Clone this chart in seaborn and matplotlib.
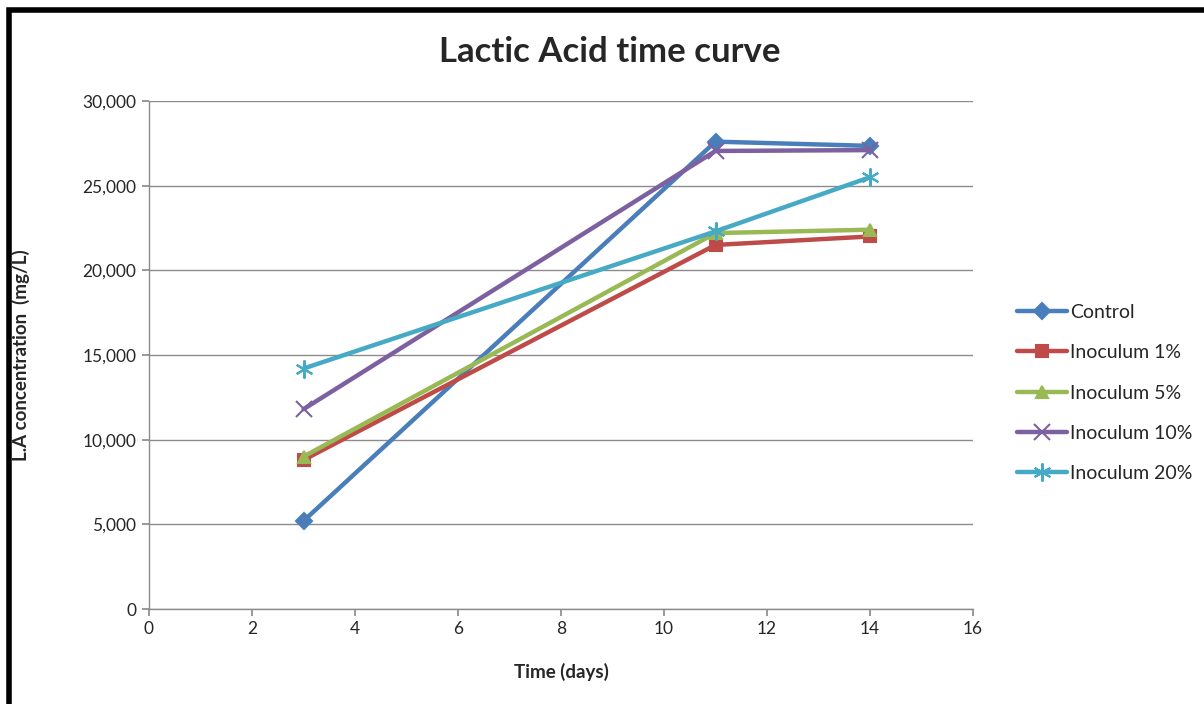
import matplotlib
matplotlib.use("Agg")
import matplotlib.pyplot as plt
import matplotlib.ticker as mticker
from matplotlib.patches import Rectangle
import pandas as pd
import seaborn as sns

# Sampling days and lactic acid concentration (mg/L) per treatment
days = [3, 11, 14]
control = [5200, 27600, 27350]
inoculum_1 = [8800, 21500, 22000]
inoculum_5 = [9000, 22200, 22400]
inoculum_10 = [11800, 27050, 27100]
inoculum_20 = [14200, 22300, 25500]

series_names = ["Control", "Inoculum 1%", "Inoculum 5%", "Inoculum 10%", "Inoculum 20%"]
series_values = [control, inoculum_1, inoculum_5, inoculum_10, inoculum_20]

x_ticks = [0, 2, 4, 6, 8, 10, 12, 14, 16]
y_ticks = [0, 5000, 10000, 15000, 20000, 25000, 30000]

rows = []
for name, vals in zip(series_names, series_values):
    for d, v in zip(days, vals):
        rows.append({"Time (days)": d, "value": v, "series": name})
df = pd.DataFrame(rows)

palette = {
    "Control": "#4A7EBB",
    "Inoculum 1%": "#BE4B48",
    "Inoculum 5%": "#98B954",
    "Inoculum 10%": "#7D60A0",
    "Inoculum 20%": "#46AAC5",
}
markers = {
    "Control": "D",
    "Inoculum 1%": "s",
    "Inoculum 5%": "^",
    "Inoculum 10%": "x",
    "Inoculum 20%": (6, 2, 0),
}
marker_sizes = {
    "Control": 8,
    "Inoculum 1%": 9,
    "Inoculum 5%": 9,
    "Inoculum 10%": 11,
    "Inoculum 20%": 13,
}

sns.set_theme(style="white")
plt.rcParams["font.family"] = ["Lato", "DejaVu Sans"]

fig = plt.figure(figsize=(12.04, 7.04), dpi=100)
ax = fig.add_axes([149 / 1204, (704 - 609) / 704, (973 - 149) / 1204, (609 - 101) / 704])

for name in series_names:
    sub = df[df["series"] == name]
    sns.lineplot(
        data=sub, x="Time (days)", y="value", ax=ax,
        color=palette[name], marker=markers[name],
        markersize=marker_sizes[name], markeredgewidth=1.5,
        markeredgecolor=palette[name], linewidth=3.2, label=name,
    )

ax.set_xlim(0, 16)
ax.set_ylim(0, 30000)
ax.set_xticks(x_ticks)
ax.set_yticks(y_ticks)
ax.yaxis.set_major_formatter(mticker.FuncFormatter(lambda v, p: f"{int(v):,}"))
ax.grid(axis="y", color="#8c8c8c", linewidth=1.0)
ax.set_axisbelow(True)
for side in ["top", "right"]:
    ax.spines[side].set_visible(False)
for side in ["left", "bottom"]:
    ax.spines[side].set_color("#8c8c8c")
    ax.spines[side].set_linewidth(1.0)
ax.tick_params(axis="both", which="major", labelsize=12.5, direction="out",
               length=5, color="#8c8c8c", bottom=True, left=True, pad=4)

ax.set_xlabel("Time (days)", fontsize=13.5, fontweight="bold")
ax.set_ylabel("L.A concentration  (mg/L)", fontsize=13.5, fontweight="bold")
ax.xaxis.set_label_coords(0.5, -0.106)
ax.yaxis.set_label_coords(-0.145, 0.5)

fig.suptitle("Lactic Acid time curve", x=610 / 1204, y=1 - 52 / 704, va="center",
             fontsize=25, fontweight="bold")

leg = ax.legend(loc="center left", bbox_to_anchor=(1.032, 0.425), frameon=False,
                fontsize=14, handlelength=2.6, labelspacing=1.2, handletextpad=0.15)

# Outer chart frame
fig.patches.append(Rectangle((9 / 1204, -0.05), 1.2, 1 - 10 / 704 + 0.05,
                             transform=fig.transFigure, fill=False,
                             edgecolor="black", linewidth=4, zorder=10))

fig.savefig("out.png", dpi=100)
